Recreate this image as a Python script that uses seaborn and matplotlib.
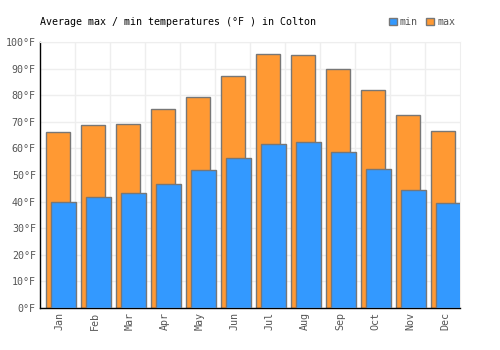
import numpy as np
import pandas as pd
import seaborn as sns
import matplotlib
matplotlib.use("Agg")
import matplotlib.pyplot as plt
from matplotlib.patches import Patch

months = ["Jan", "Feb", "Mar", "Apr", "May", "Jun",
          "Jul", "Aug", "Sep", "Oct", "Nov", "Dec"]
t_max = [66.2, 68.8, 69.2, 74.8, 79.3, 87.2, 95.5, 95.1, 89.8, 82.0, 72.6, 66.5]
t_min = [39.8, 41.7, 43.2, 46.6, 51.9, 56.4, 61.6, 62.4, 58.6, 52.3, 44.4, 39.5]
y_ticks = list(range(0, 101, 10))

sns.set_style("white")
plt.rcParams["font.family"] = ["DejaVu Sans Mono"]
plt.rcParams["font.size"] = 7.2

pos = np.arange(len(months))
df = pd.DataFrame({"pos": pos, "max": t_max, "min": t_min})

fig = plt.figure(figsize=(5, 3.5), dpi=100)
ax = fig.add_axes([0.08, 0.12, 0.84, 0.76])

# max behind, min in front and shifted a little to the right
sns.barplot(x=df["pos"] + 0.015, y=df["max"], native_scale=True, width=0.67,
            color="#ff9933", saturation=1, edgecolor="#777777", linewidth=1,
            ax=ax, zorder=2)
sns.barplot(x=df["pos"] + 0.165, y=df["min"], native_scale=True, width=0.70,
            color="#3399ff", saturation=1, edgecolor="#777777", linewidth=1,
            ax=ax, zorder=3)

ax.set_xlim(-0.5, len(months) - 0.5)
ax.set_ylim(0, 100)
ax.set_xticks(pos + 0.07, labels=months, rotation=90, color="#555555")
ax.set_xticks(pos[:-1] + 0.5, minor=True)
ax.set_yticks(y_ticks, labels=[f"{v}°F" for v in y_ticks], color="#555555")
ax.tick_params(axis="both", which="both", length=0, pad=3)
ax.grid(True, which="minor", axis="x", color="#eeeeee", linewidth=1, zorder=0)
ax.grid(True, which="major", axis="y", color="#eeeeee", linewidth=1, zorder=0)
ax.set_axisbelow(True)
ax.set_xlabel("")
ax.set_ylabel("")
for s in ["top", "right"]:
    ax.spines[s].set_color("#eeeeee")
for s in ["left", "bottom"]:
    ax.spines[s].set_color("black")
    ax.spines[s].set_linewidth(1)

fig.text(0.08, 0.937, "Average max / min temperatures (°F ) in Colton",
         fontsize=7.2, color="black", va="center", ha="left")

handles = [Patch(facecolor="#3399ff", edgecolor="#777777", label="min"),
           Patch(facecolor="#ff9933", edgecolor="#777777", label="max")]
leg = fig.legend(handles=handles, loc="center right", bbox_to_anchor=(0.91, 0.937),
                 ncol=2, frameon=False, handlelength=0.8, handleheight=0.8,
                 handletextpad=0.3, columnspacing=0.8, borderaxespad=0,
                 borderpad=0, fontsize=7.2)
for t in leg.get_texts():
    t.set_color("#555555")

fig.savefig("out.png", dpi=100)
